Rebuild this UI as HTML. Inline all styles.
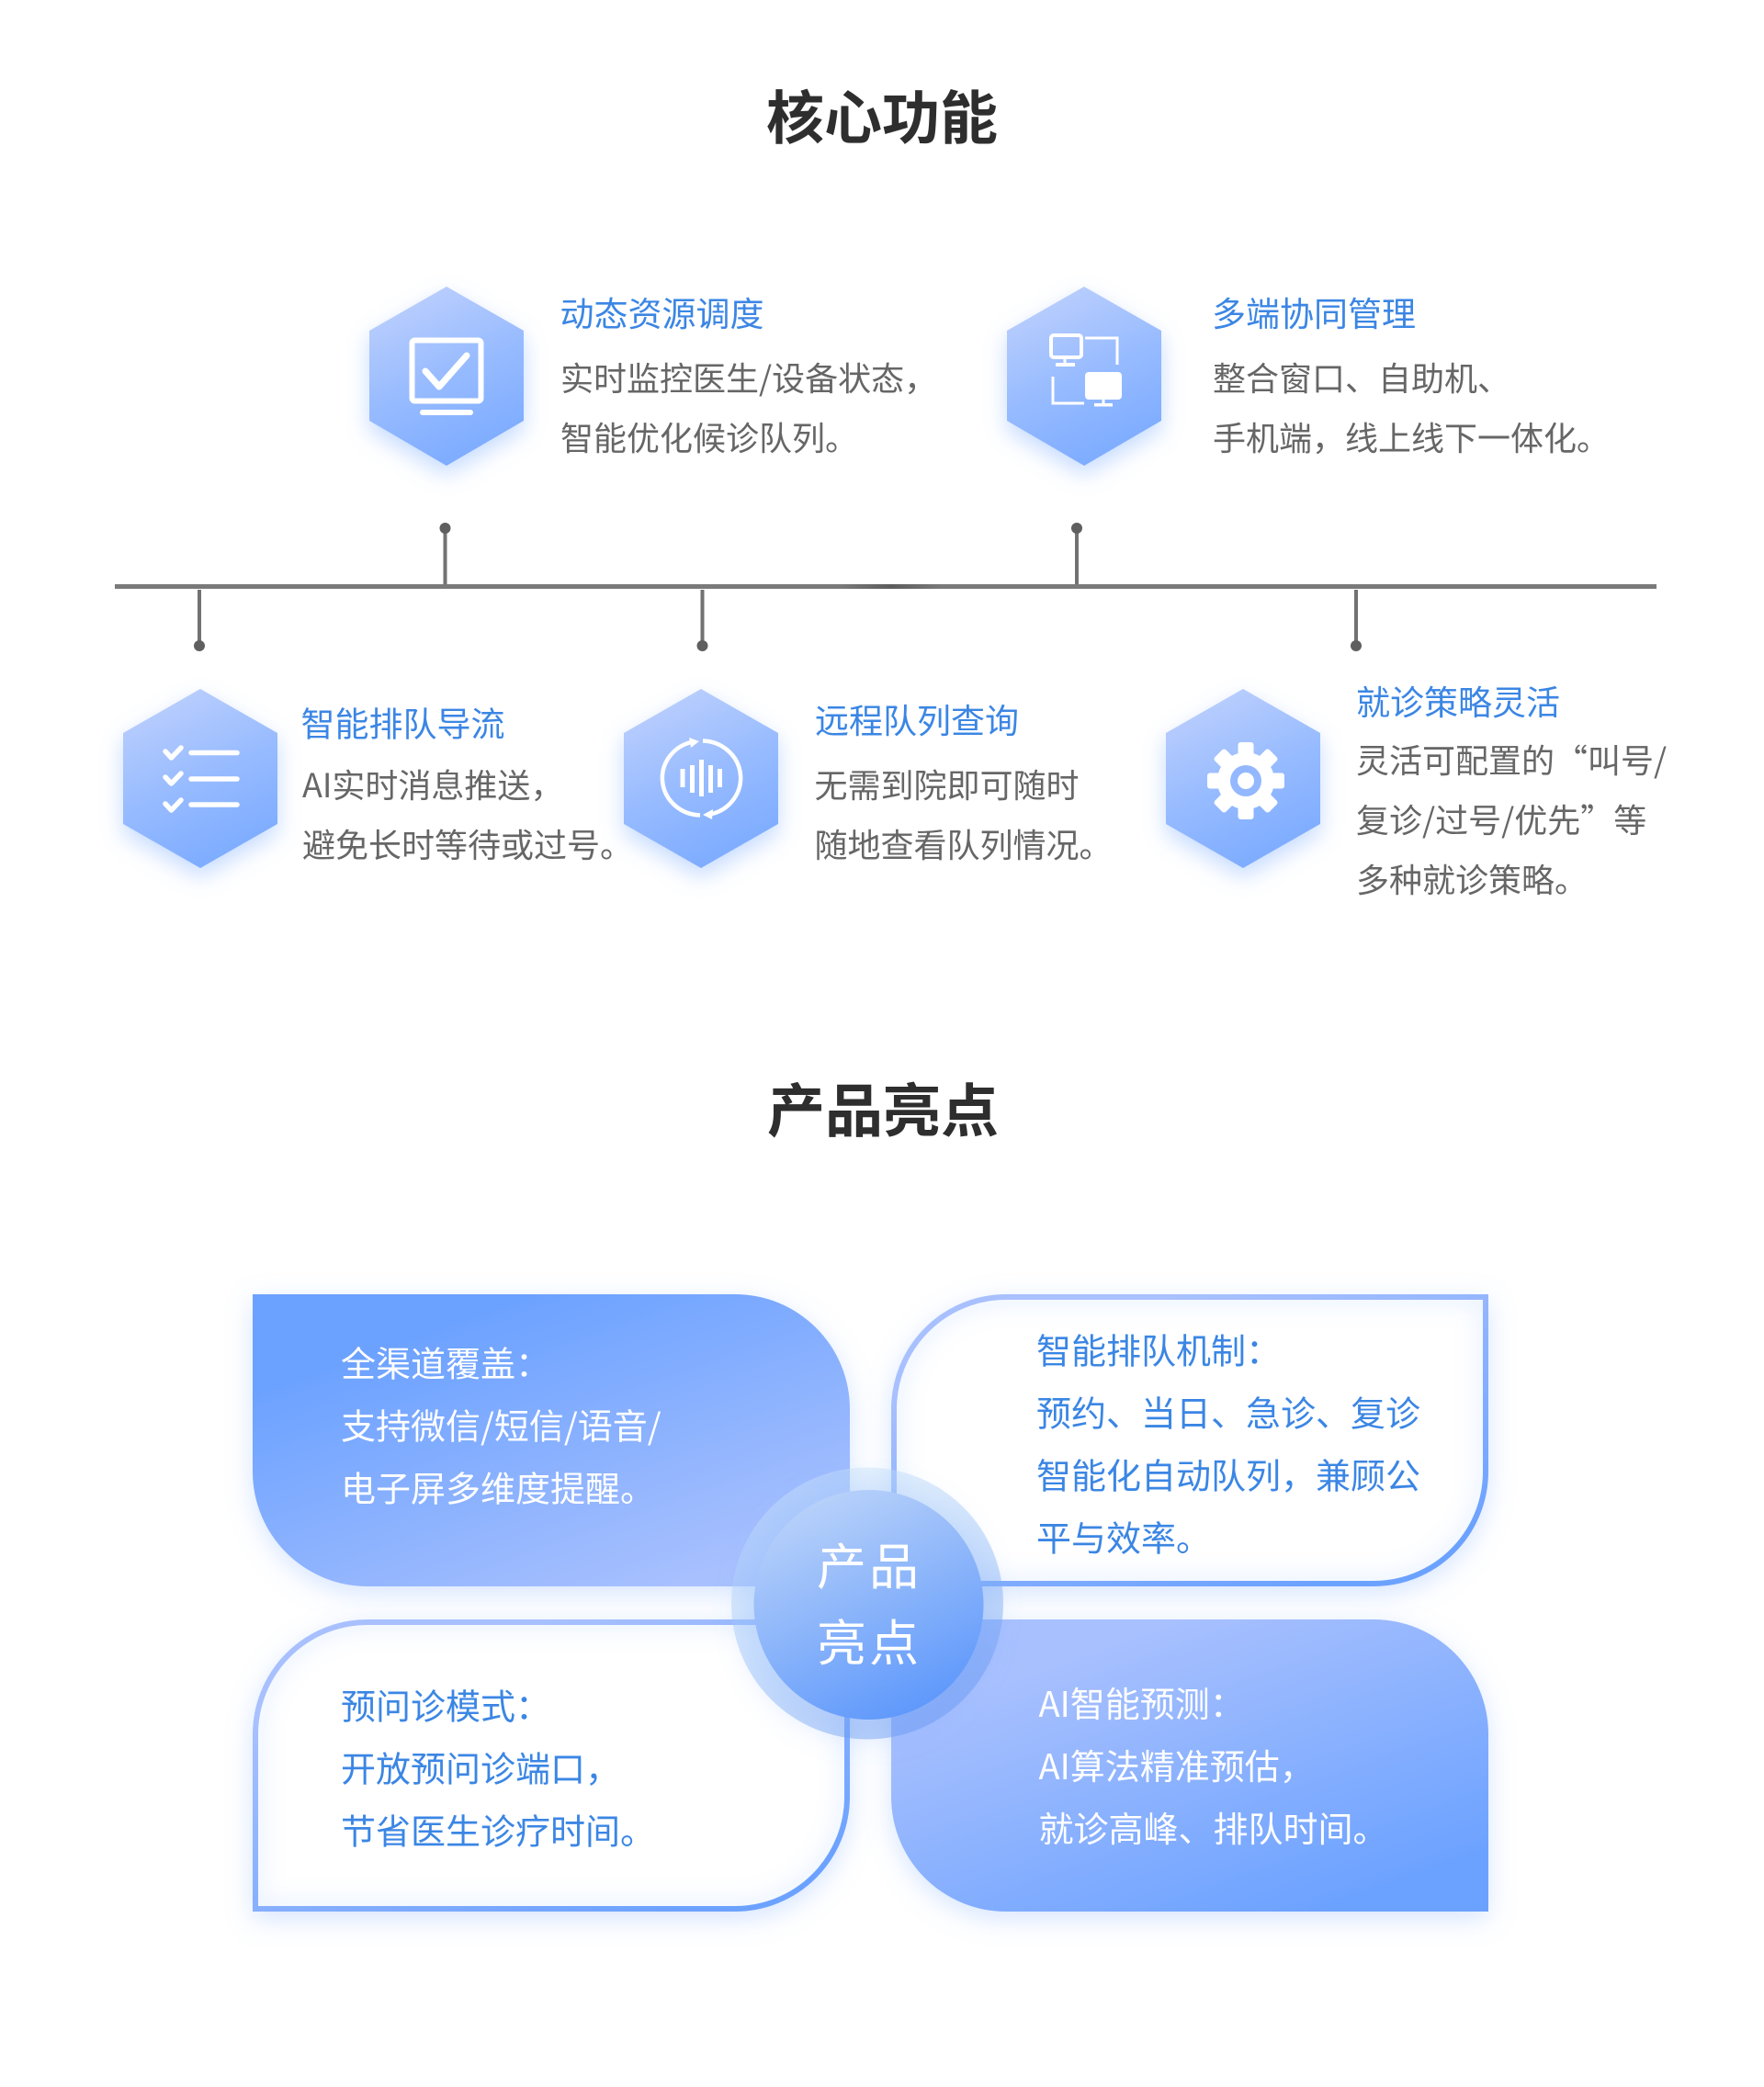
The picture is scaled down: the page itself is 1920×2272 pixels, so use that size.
<!DOCTYPE html>
<html lang="zh-CN">
<head>
<meta charset="utf-8">
<title>核心功能 产品亮点</title>
<style>
html,body{margin:0;padding:0;background:#fff;width:1920px;height:2272px;overflow:hidden}
svg{display:block}
text{font-family:"Noto Sans CJK SC","Liberation Sans",sans-serif;white-space:pre}
.h{font-size:63px;font-weight:700;fill:#2e2e2e;text-anchor:middle}
.t{font-size:37px;font-weight:400;fill:#3b86e4}
.b{font-size:36px;fill:#666}
.cw{font-size:38px;fill:#fff}
.cb{font-size:38px;fill:#3b86e4}
.c{font-size:54px;fill:#fff;text-anchor:middle;letter-spacing:3px}
</style>
</head>
<body>
<svg width="1920" height="2272" viewBox="0 0 1920 2272" xmlns="http://www.w3.org/2000/svg">
<defs>
<linearGradient id="hex" x1="0.3" y1="0" x2="0.7" y2="1">
<stop offset="0" stop-color="#bccffd"/><stop offset="0.5" stop-color="#97bbff"/><stop offset="1" stop-color="#7aaaff"/>
</linearGradient>
<linearGradient id="cA" x1="0.22" y1="0.18" x2="0.78" y2="0.95">
<stop offset="0" stop-color="#6ca2ff"/><stop offset="1" stop-color="#a8c0fe"/>
</linearGradient>
<linearGradient id="cB" x1="0.22" y1="0.18" x2="0.78" y2="0.95">
<stop offset="0" stop-color="#a8c0fe"/><stop offset="1" stop-color="#6ca2ff"/>
</linearGradient>
<linearGradient id="ring" x1="0.25" y1="0.05" x2="0.75" y2="0.95">
<stop offset="0" stop-color="#cae4fa" stop-opacity="0.43"/><stop offset="0.5" stop-color="#8cb9f8" stop-opacity="0.43"/><stop offset="1" stop-color="#5f92f0" stop-opacity="0.44"/>
</linearGradient>
<linearGradient id="core" x1="0.28" y1="0.03" x2="0.72" y2="0.97">
<stop offset="0" stop-color="#b8d1fa"/><stop offset="1" stop-color="#5e98fb"/>
</linearGradient>
<linearGradient id="lineDark" x1="0" y1="0" x2="1" y2="0">
<stop offset="0" stop-color="#7a7a7a"/><stop offset="0.5" stop-color="#5c5c5c"/><stop offset="1" stop-color="#7a7a7a"/>
</linearGradient>
<filter id="sh" x="-40%" y="-30%" width="180%" height="170%">
<feDropShadow dx="0" dy="10" stdDeviation="12" flood-color="#6ca2ff" flood-opacity="0.38"/>
</filter>
<filter id="csh" x="-15%" y="-20%" width="130%" height="150%">
<feDropShadow dx="0" dy="8" stdDeviation="14" flood-color="#6ca2ff" flood-opacity="0.28"/>
</filter>
<filter id="rsh" x="-25%" y="-25%" width="150%" height="150%">
<feGaussianBlur stdDeviation="14"/>
</filter>
<filter id="ib" x="-10%" y="-10%" width="120%" height="120%">
<feGaussianBlur stdDeviation="12"/>
</filter>
<clipPath id="clipTR"><path d="M1095 1409H1620V1602A125 125 0 0 1 1495 1727H970V1534A125 125 0 0 1 1095 1409Z"/></clipPath>
<clipPath id="clipBL"><path d="M400 1763H925V1956A125 125 0 0 1 800 2081H275V1888A125 125 0 0 1 400 1763Z"/></clipPath>
</defs>

<rect width="1920" height="2272" fill="#fff"/>

<!-- Heading 1 -->
<text class="h" x="960" y="151">核心功能</text>

<!-- Timeline -->
<rect x="125" y="636" width="1678" height="5" fill="#7a7a7a"/>
<rect x="915" y="636" width="110" height="5" fill="url(#lineDark)"/>
<g fill="#727272">
<rect x="482.500" y="575" width="4" height="61"/>
<rect x="1170" y="575" width="4" height="61"/>
<rect x="215" y="642" width="4" height="61"/>
<rect x="762.500" y="642" width="4" height="61"/>
<rect x="1474" y="642" width="4" height="61"/>
</g>
<g fill="#5f5f5f">
<circle cx="484.500" cy="575" r="6"/>
<circle cx="1172" cy="575" r="6"/>
<circle cx="217" cy="703" r="6"/>
<circle cx="764.500" cy="703" r="6"/>
<circle cx="1476" cy="703" r="6"/>
</g>

<!-- Hexagons -->
<polygon filter="url(#sh)" fill="url(#hex)" points="486,312 570,360 570,458 486,507 402,458 402,360"/>
<polygon filter="url(#sh)" fill="url(#hex)" points="1180,312 1264,360 1264,458 1180,507 1096,458 1096,360"/>
<polygon filter="url(#sh)" fill="url(#hex)" points="218,750 302,798 302,897 218,945 134,897 134,798"/>
<polygon filter="url(#sh)" fill="url(#hex)" points="763,750 847,798 847,897 763,945 679,897 679,798"/>
<polygon filter="url(#sh)" fill="url(#hex)" points="1353,750 1437,798 1437,897 1353,945 1269,897 1269,798"/>

<!-- Icon 1: monitor check -->
<g fill="none" stroke="#fff">
<rect x="448.500" y="370.500" width="75" height="66" rx="3" stroke-width="6"/>
<polyline points="463,404 478,421 508,387" stroke-width="7" stroke-linecap="round" stroke-linejoin="round"/>
<line x1="460" y1="449" x2="512" y2="449" stroke-width="6" stroke-linecap="round"/>
</g>

<!-- Icon 2: linked screens -->
<g fill="none" stroke="#fff">
<rect x="1144" y="365" width="33" height="24" rx="3" stroke-width="4"/>
<polyline points="1181,368 1216,368 1216,397" stroke-width="3"/>
<polyline points="1146,410 1146,439 1180,439" stroke-width="3"/>
</g>
<g fill="#fff">
<rect x="1157.500" y="391" width="3" height="5"/>
<rect x="1149" y="395" width="21" height="4"/>
<rect x="1181" y="405" width="40" height="30" rx="4"/>
<rect x="1199.500" y="435" width="3" height="5"/>
<rect x="1191" y="439" width="20" height="3.500"/>
</g>

<!-- Icon 3: checklist -->
<g fill="none" stroke="#fff" stroke-width="5.500" stroke-linecap="round" stroke-linejoin="round">
<polyline points="180,818 186.500,825 197,814"/>
<polyline points="180,846 186.500,853 197,842"/>
<polyline points="180,875 186.500,882 197,871"/>
<line x1="208" y1="819.500" x2="258" y2="819.500"/>
<line x1="208" y1="848" x2="258" y2="848"/>
<line x1="208" y1="876" x2="258" y2="876"/>
</g>

<!-- Icon 4: sync sound -->
<g fill="none" stroke="#fff" stroke-width="4.500">
<path d="M762 887.500A42.500 40.500 0 0 1 752 808"/>
<path d="M765 806.500A42.500 40.500 0 0 1 775 886"/>
</g>
<g fill="#fff">
<polygon points="761,807 750,803 752,814"/>
<polygon points="765,887 776,881 775,892"/>
<rect x="740.500" y="837" width="5" height="20"/>
<rect x="751" y="833" width="5" height="30"/>
<rect x="761" y="827" width="5" height="40"/>
<rect x="771" y="833" width="5" height="30"/>
<rect x="781" y="837" width="5" height="20"/>
</g>

<!-- Icon 5: gear -->
<g fill="#fff">
<circle cx="1356" cy="850" r="31"/>
<g id="teeth">
<rect x="1347.500" y="808" width="17" height="84" rx="3"/>
<rect x="1347.500" y="808" width="17" height="84" rx="3" transform="rotate(45 1356 850)"/>
<rect x="1347.500" y="808" width="17" height="84" rx="3" transform="rotate(90 1356 850)"/>
<rect x="1347.500" y="808" width="17" height="84" rx="3" transform="rotate(135 1356 850)"/>
</g>
</g>
<circle cx="1356" cy="850" r="17" fill="#93b8ff"/>
<circle cx="1356" cy="850" r="9" fill="#fff"/>

<!-- Feature text -->
<text class="t" x="609.500" y="355">动态资源调度</text>
<text class="b" x="610" y="425">实时监控医生/设备状态，</text>
<text class="b" x="610" y="490">智能优化候诊队列。</text>

<text class="t" x="1319" y="355">多端协同管理</text>
<text class="b" x="1320" y="425">整合窗口、自助机、</text>
<text class="b" x="1320" y="490">手机端，线上线下一体化。</text>

<text class="t" x="327.500" y="801.500">智能排队导流</text>
<text class="b" x="329" y="868">AI实时消息推送，</text>
<text class="b" x="329" y="933">避免长时等待或过号。</text>

<text class="t" x="887" y="798">远程队列查询</text>
<text class="b" x="886.500" y="868">无需到院即可随时</text>
<text class="b" x="886.500" y="933">随地查看队列情况。</text>

<text class="t" x="1476" y="778">就诊策略灵活</text>
<text class="b" x="1476" y="841">灵活可配置的“叫号/</text>
<text class="b" x="1476" y="906">复诊/过号/优先”等</text>
<text class="b" x="1476" y="971">多种就诊策略。</text>

<!-- Heading 2 -->
<text class="h" x="961" y="1232">产品亮点</text>

<!-- Cards -->
<path filter="url(#csh)" fill="url(#cA)" d="M275 1409H800A125 125 0 0 1 925 1534V1727H400A125 125 0 0 1 275 1602Z"/>

<path filter="url(#csh)" fill="#fff" d="M1095 1409H1620V1602A125 125 0 0 1 1495 1727H970V1534A125 125 0 0 1 1095 1409Z"/>
<g clip-path="url(#clipTR)"><path filter="url(#ib)" fill="none" stroke="#6ca2ff" stroke-opacity="0.14" stroke-width="18" d="M1095 1412H1617V1602A122 122 0 0 1 1495 1724H973V1534A122 122 0 0 1 1095 1412Z"/></g>
<path fill="none" stroke="url(#cB)" stroke-width="6" d="M1095 1412H1617V1602A122 122 0 0 1 1495 1724H973V1534A122 122 0 0 1 1095 1412Z"/>

<path filter="url(#csh)" fill="#fff" d="M400 1763H925V1956A125 125 0 0 1 800 2081H275V1888A125 125 0 0 1 400 1763Z"/>
<g clip-path="url(#clipBL)"><path filter="url(#ib)" fill="none" stroke="#6ca2ff" stroke-opacity="0.14" stroke-width="18" d="M400 1766H922V1956A122 122 0 0 1 800 2078H278V1888A122 122 0 0 1 400 1766Z"/></g>
<path fill="none" stroke="url(#cB)" stroke-width="6" d="M400 1766H922V1956A122 122 0 0 1 800 2078H278V1888A122 122 0 0 1 400 1766Z"/>

<path filter="url(#csh)" fill="url(#cB)" d="M970 1763H1495A125 125 0 0 1 1620 1888V2081H1095A125 125 0 0 1 970 1956Z"/>

<!-- Card text -->
<text class="cw" x="371" y="1498.500">全渠道覆盖：</text>
<text class="cw" x="371" y="1566.500">支持微信/短信/语音/</text>
<text class="cw" x="371" y="1634.500">电子屏多维度提醒。</text>

<text class="cb" x="1128" y="1484.500">智能排队机制：</text>
<text class="cb" x="1128" y="1552.500">预约、当日、急诊、复诊</text>
<text class="cb" x="1128" y="1620.500">智能化自动队列，兼顾公</text>
<text class="cb" x="1128" y="1688.500">平与效率。</text>

<text class="cb" x="371" y="1871.500">预问诊模式：</text>
<text class="cb" x="371" y="1939.500">开放预问诊端口，</text>
<text class="cb" x="371" y="2007.500">节省医生诊疗时间。</text>

<text class="cw" x="1130.500" y="1869">AI智能预测：</text>
<text class="cw" x="1130.500" y="1937">AI算法精准预估，</text>
<text class="cw" x="1130.500" y="2005">就诊高峰、排队时间。</text>

<!-- Centre -->
<circle cx="944" cy="1755" r="140" fill="#6ca2ff" fill-opacity="0.18" filter="url(#rsh)"/>
<circle cx="944" cy="1745.500" r="148" fill="url(#ring)"/>
<circle cx="945.500" cy="1747" r="125" fill="url(#core)"/>
<text class="c" x="946" y="1725">产品</text>
<text class="c" x="946" y="1808">亮点</text>
</svg>
</body>
</html>
